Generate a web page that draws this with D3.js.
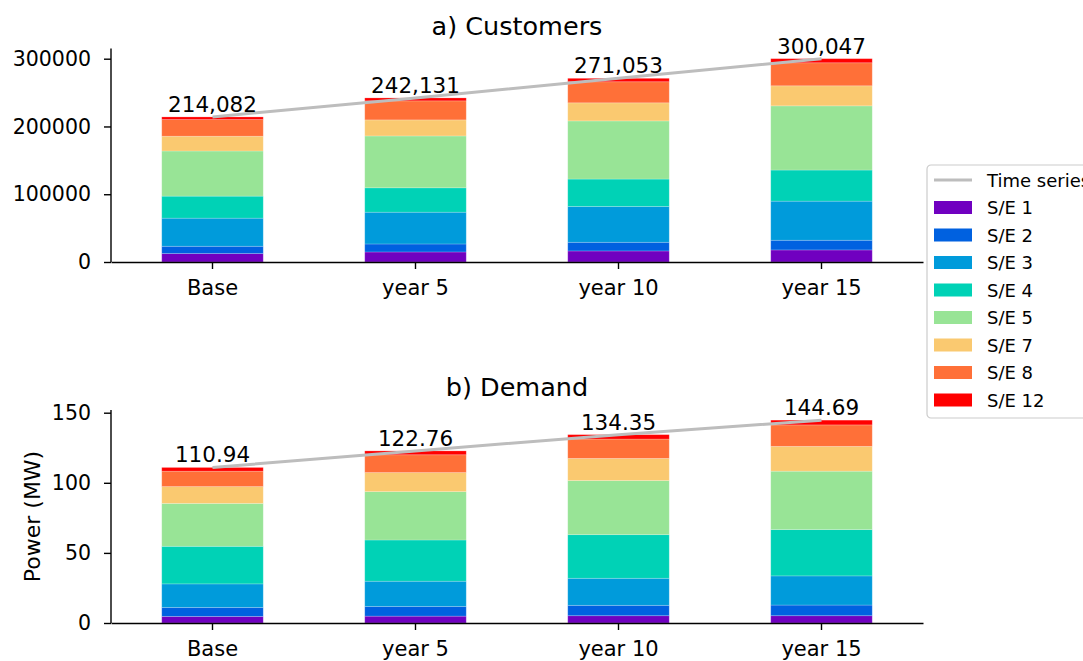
<!DOCTYPE html>
<html>
<head>
<meta charset="utf-8">
<script src="https://cdn.jsdelivr.net/npm/d3@7"></script>
<style>
  html, body { margin: 0; padding: 0; background: #ffffff; }
  svg { display: block; font-family: "DejaVu Sans", sans-serif; }
</style>
</head>
<body>
<svg id="chart" width="1083" height="661"></svg>
<script>
// Scenario years on the x axis
const periods = ["Base", "year 5", "year 10", "year 15"];

// Substations (S/E) stacked in each bar, bottom to top
const substations = ["S/E 1", "S/E 2", "S/E 3", "S/E 4", "S/E 5", "S/E 7", "S/E 8", "S/E 12"];
const substationColors = ["#7000c0", "#0061e0", "#009bdb", "#00d2b6", "#98e496", "#fac970", "#ff7038", "#ff0000"];

// a) Customers per substation, one array per period
const customersBase   = [12400, 10800, 41500, 32500, 66600, 21800, 24600, 3882];
const customersYear5  = [14800, 11800, 46900, 36000, 76500, 23700, 28100, 4331];
const customersYear10 = [16300, 12800, 52900, 40400, 85800, 26700, 31100, 5053];
const customersYear15 = [17800, 14300, 57700, 45900, 94700, 29600, 34000, 6047];

// b) Demand (MW) per substation, one array per period
const demandBase   = [4.7, 6.4, 16.8, 26.8, 30.6, 12.0, 11.0, 2.64];
const demandYear5  = [4.9, 6.9, 18.0, 29.4, 34.5, 13.6, 12.7, 2.76];
const demandYear10 = [5.2, 7.4, 19.3, 31.1, 38.6, 15.8, 13.8, 3.15];
const demandYear15 = [5.2, 7.6, 20.8, 33.0, 41.7, 17.7, 15.3, 3.39];

// Y tick values for each panel
const customerTicks = [0, 100000, 200000, 300000];
const demandTicks = [0, 50, 100, 150];

const svg = d3.select("#chart");

function buildRows(arrays) {
  return periods.map((p, i) => {
    const row = { period: p };
    substations.forEach((s, j) => { row[s] = arrays[i][j]; });
    return row;
  });
}

function drawPanel(cfg) {
  const rows = buildRows(cfg.series);
  const totals = cfg.series.map(a => d3.sum(a));
  const g = svg.append("g");

  const x = d3.scaleBand()
    .domain(periods)
    .range([cfg.left, cfg.right])
    .paddingInner(0.5)
    .paddingOuter(0.25);

  const y = d3.scaleLinear()
    .domain([0, d3.max(totals) * 1.05])
    .range([cfg.bottom, cfg.top]);

  const stack = d3.stack().keys(substations)(rows);

  // Stacked bars
  g.selectAll("g.layer")
    .data(stack)
    .join("g")
    .attr("class", "layer")
    .attr("fill", (d, i) => substationColors[i])
    .selectAll("rect")
    .data(d => d)
    .join("rect")
    .attr("x", d => x(d.data.period))
    .attr("width", x.bandwidth())
    .attr("y", d => y(d[1]))
    .attr("height", d => y(d[0]) - y(d[1]))
    .attr("stroke", "#ffffff")
    .attr("stroke-opacity", 0.25)
    .attr("stroke-width", 0.8);

  // Totals time series
  const line = d3.line()
    .x((d, i) => x(periods[i]) + x.bandwidth() / 2)
    .y(d => y(d));
  g.append("path")
    .datum(totals)
    .attr("d", line)
    .attr("fill", "none")
    .attr("stroke", "#bdbdbd")
    .attr("stroke-width", 3);

  // Total labels
  g.selectAll("text.total")
    .data(totals)
    .join("text")
    .attr("class", "total")
    .attr("x", (d, i) => x(periods[i]) + x.bandwidth() / 2)
    .attr("y", d => y(d) - 5)
    .attr("text-anchor", "middle")
    .attr("font-size", 21.5)
    .attr("fill", "#000")
    .text(d => cfg.labelFormat(d));

  // Axes
  const yAxis = d3.axisLeft(y)
    .tickValues(cfg.ticks)
    .tickFormat(d3.format("d"))
    .tickSize(7)
    .tickPadding(13);
  const ya = g.append("g")
    .attr("transform", `translate(${cfg.left},0)`)
    .call(yAxis);

  const xAxis = d3.axisBottom(x)
    .tickSize(7)
    .tickPadding(11)
    .tickSizeOuter(0);
  const xa = g.append("g")
    .attr("transform", `translate(0,${cfg.bottom})`)
    .call(xAxis);

  [ya, xa].forEach(a => {
    a.select(".domain").attr("stroke", "#000").attr("stroke-width", 1.4);
    a.selectAll(".tick line").attr("stroke", "#000").attr("stroke-width", 1.4);
    a.selectAll(".tick text")
      .attr("font-family", "DejaVu Sans, sans-serif")
      .attr("fill", "#000");
  });
  ya.selectAll(".tick text").attr("font-size", 20.5);
  xa.selectAll(".tick text").attr("font-size", 21);
  // y axis spine spans full range without outer ticks
  ya.select(".domain").attr("d", `M0,${cfg.bottom}V${cfg.top}`);

  // Title
  g.append("text")
    .attr("x", (cfg.left + cfg.right) / 2)
    .attr("y", cfg.top - 14)
    .attr("text-anchor", "middle")
    .attr("font-size", 25.5)
    .attr("fill", "#000")
    .text(cfg.title);

  if (cfg.ylabel) {
    g.append("text")
      .attr("transform", `translate(40,${(cfg.top + cfg.bottom) / 2}) rotate(-90)`)
      .attr("text-anchor", "middle")
      .attr("font-size", 22)
      .attr("fill", "#000")
      .text(cfg.ylabel);
  }
}

drawPanel({
  title: "a) Customers",
  series: [customersBase, customersYear5, customersYear10, customersYear15],
  ticks: customerTicks,
  left: 111, right: 923, top: 48.5, bottom: 262,
  labelFormat: d3.format(",d")
});

drawPanel({
  title: "b) Demand",
  series: [demandBase, demandYear5, demandYear10, demandYear15],
  ticks: demandTicks,
  left: 111, right: 923, top: 410, bottom: 623,
  labelFormat: d3.format(".2f"),
  ylabel: "Power (MW)"
});

// Legend (extends past the right edge of the figure)
const legend = svg.append("g").attr("transform", "translate(927,165)");
legend.append("rect")
  .attr("x", 0).attr("y", 0)
  .attr("width", 175).attr("height", 253)
  .attr("rx", 4)
  .attr("fill", "#ffffff").attr("fill-opacity", 0.8)
  .attr("stroke", "#cccccc").attr("stroke-width", 1.2);

const rowY = i => 15 + i * 27.5;
legend.append("line")
  .attr("x1", 7).attr("x2", 45)
  .attr("y1", rowY(0)).attr("y2", rowY(0))
  .attr("stroke", "#bdbdbd").attr("stroke-width", 3);
legend.append("text")
  .attr("x", 60).attr("y", rowY(0) + 6.5)
  .attr("font-size", 18).attr("fill", "#000")
  .text("Time series");

substations.forEach((s, i) => {
  legend.append("rect")
    .attr("x", 7).attr("y", rowY(i + 1) - 6.5)
    .attr("width", 38).attr("height", 13)
    .attr("fill", substationColors[i]);
  legend.append("text")
    .attr("x", 60).attr("y", rowY(i + 1) + 6.5)
    .attr("font-size", 18).attr("fill", "#000")
    .text(s);
});
</script>
</body>
</html>
